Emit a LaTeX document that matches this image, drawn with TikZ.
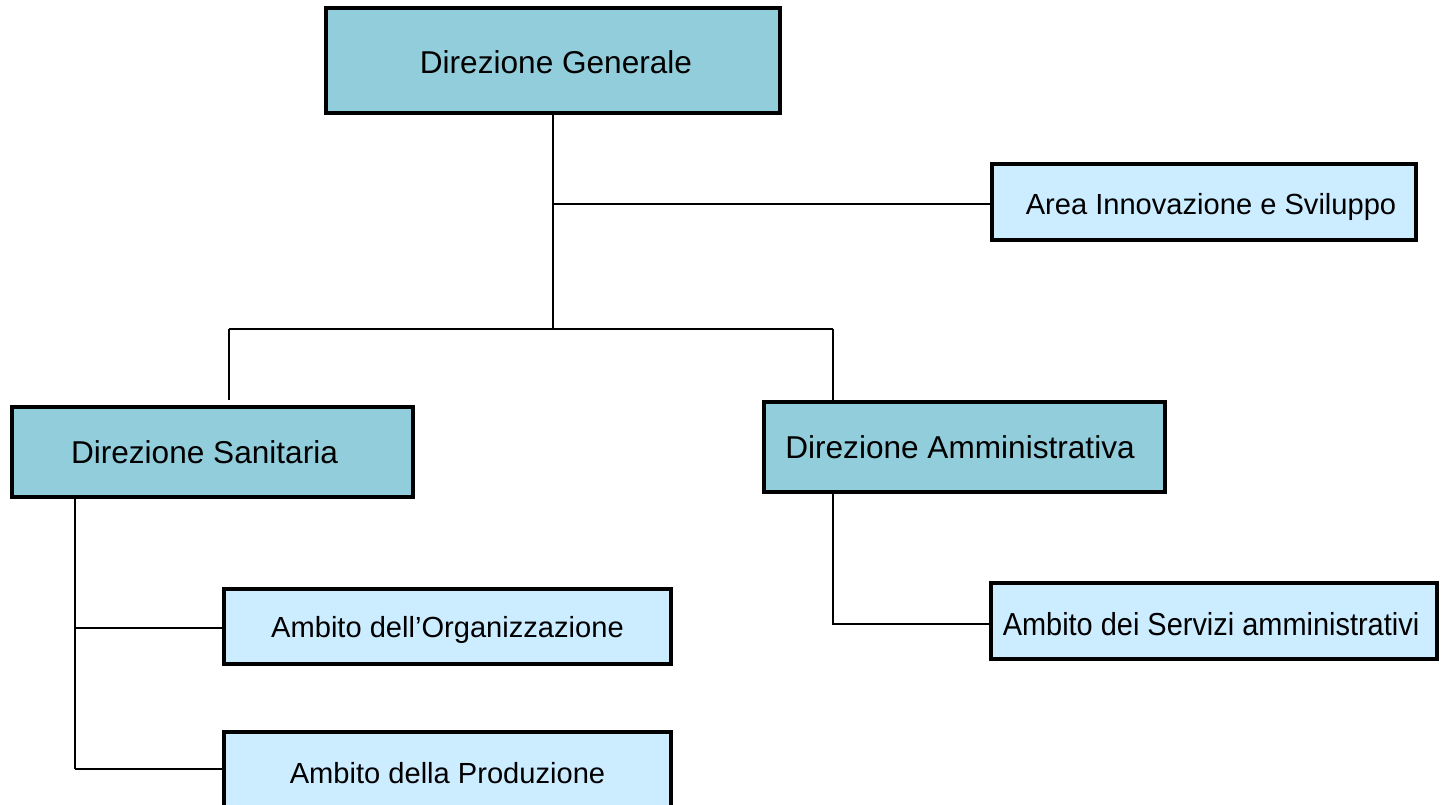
\documentclass[tikz,border=0pt]{standalone}
\usepackage{fontspec}
\setmainfont{Liberation Sans}
\definecolor{darkbox}{RGB}{146,205,220}
\definecolor{lightbox}{RGB}{204,236,255}
\newcommand{\lowr}[2]{\raisebox{-#1}[\height][\depth]{#2}}
\begin{document}
\begin{tikzpicture}[x=1pt,y=-1pt,
  box/.style={draw=black,line width=3.2pt,inner sep=0pt,align=center},
  dbox/.style={box,fill=darkbox,font=\fontsize{31.6}{38}\selectfont},
  lbox/.style={box,fill=lightbox,font=\fontsize{29.1}{35}\selectfont},
  conn/.style={line width=2.6pt,draw=black}]
\clip (0,0) rectangle (1443,804);
\fill[white] (0,0) rectangle (1443,804);
% boxes
\node[dbox,minimum width=454pt,minimum height=105pt] (dg) at (553,60.5) {\hspace*{6pt}\lowr{2pt}{Direzione Generale}};
\node[lbox,minimum width=424pt,minimum height=76pt] (area) at (1204,202) {\hspace*{14pt}\lowr{5pt}{Area Innovazione e Sviluppo}};
\node[dbox,minimum width=401pt,minimum height=90pt] (ds) at (212.5,452) {\hspace*{-16pt}Direzione Sanitaria};
\node[dbox,minimum width=401pt,minimum height=90pt] (da) at (964.5,447) {\hspace*{-9pt}Direzione Amministrativa};
\node[lbox,minimum width=447pt,minimum height=75pt] (org) at (447.5,626.5) {\lowr{3pt}{Ambito dell’Organizzazione}};
\node[lbox,minimum width=447pt,minimum height=76pt] (prod) at (447.5,770) {\lowr{3pt}{Ambito della Produzione}};
\node[lbox,minimum width=446pt,minimum height=76pt] (serv) at (1214,621) {\hspace*{-6pt}\lowr{3pt}{\scalebox{0.91}[1]{\fontsize{31.8}{38}\selectfont Ambito dei Servizi amministrativi}}};
% junction coordinates
\coordinate (j) at (553,329);
\coordinate (ja) at (553,204);
\coordinate (jl) at (229,329);
\coordinate (jr) at (833,329);
\coordinate (sl) at (229,400);
\coordinate (sr) at (833,402);
\coordinate (ls) at (75,497);
\coordinate (lo) at (75,628);
\coordinate (lp) at (75,769);
\coordinate (rs) at (833,492);
\coordinate (rv) at (833,624);
% connectors
\draw[conn] (dg.south) -- (j);
\draw[conn] (ja) -- (ja -| area.west);
\draw[conn] (jl) -- (jr);
\draw[conn] (jl) -- (sl);
\draw[conn] (jr) -- (sr);
\draw[conn] (ls) -- (lp);
\draw[conn] (lo) -- (lo -| org.west);
\draw[conn] (lp) -- (lp -| prod.west);
\draw[conn] (rs) -- (rv) -- (rv -| serv.west);
\end{tikzpicture}
\end{document}
